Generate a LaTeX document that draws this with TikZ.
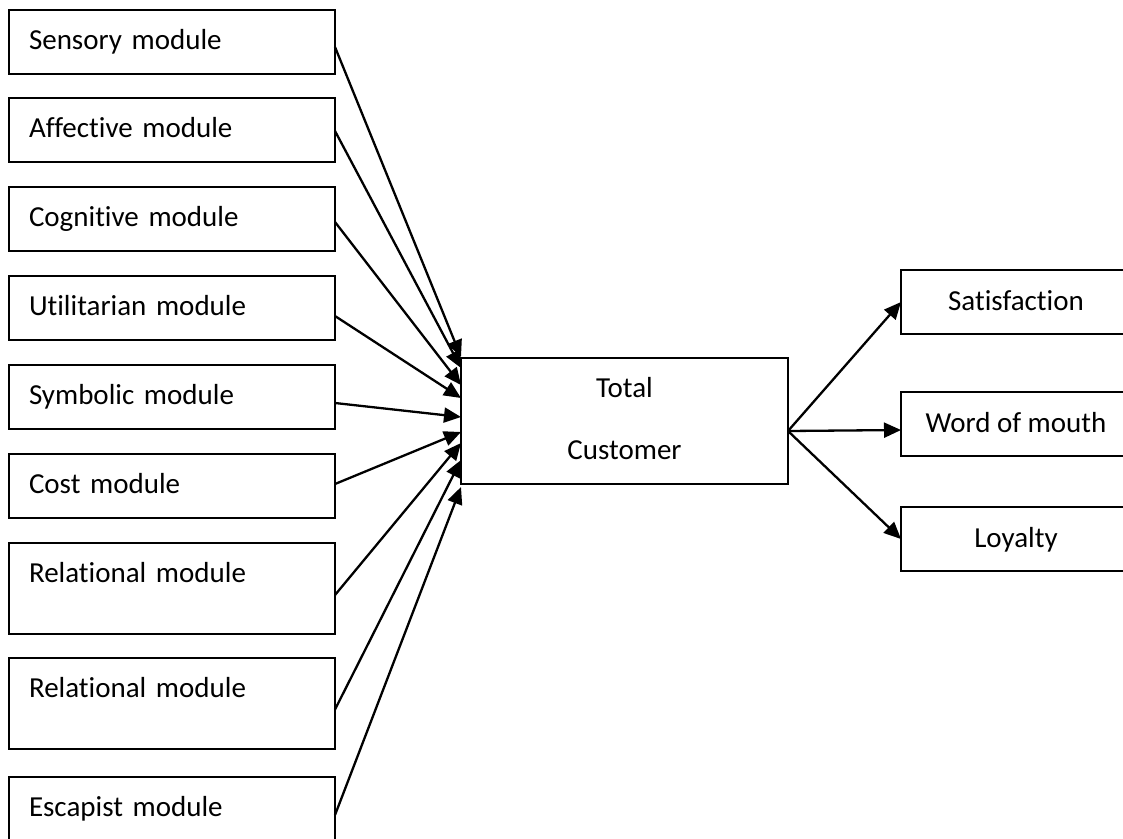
\documentclass[tikz,border=0pt]{standalone}
\usepackage{fontspec}
\setmainfont[Ligatures={NoCommon},RawFeature={-liga;-dlig;-calt}]{Carlito}
\usetikzlibrary{arrows.meta,calc}
\newcommand{\nolig}{\kern0pt{}}
\begin{document}
\begin{tikzpicture}[x=1pt,y=-1pt,
  box/.style={draw, line width=2pt, rectangle, inner sep=0pt, outer sep=0pt,
    font=\fontsize{29}{35}\selectfont},
  lbox/.style={box, anchor=north west, minimum width=326pt, minimum height=64pt,
    text width=286pt, align=left, text height=20pt, text depth=6pt},
  rbox/.style={lbox, minimum height=91pt, text height=20pt, text depth=33pt},
  obox/.style={box, anchor=north west, minimum width=230pt, minimum height=64pt,
    text height=21pt, text depth=5pt},
  arr/.style={line width=2.3pt, -{Triangle[length=17pt,width=15pt]}}
]
\useasboundingbox (0,0) rectangle (1123,838);
\clip (0,0) rectangle (1123,838);

\node[lbox] (sens) at (9,10)  {Sensory module};
\node[lbox] (aff)  at (9,98)  {Affect\nolig ive module};
\node[lbox] (cog)  at (9,187) {Cognit\nolig ive module};
\node[lbox] (util) at (9,276) {Ut\nolig ilitarian module};
\node[lbox] (sym)  at (9,365) {Symbolic module};
\node[lbox] (cost) at (9,454) {Cost module};
\node[rbox] (rel1) at (9,543) {Relational module};
\node[rbox] (rel2) at (9,658) {Relational module};
\node[rbox] (esc)  at (9,777) {Escapist module};

\node[box, minimum width=327pt, minimum height=126pt] (tc) at (624.5,421) {};
\node[font=\fontsize{29}{35}\selectfont, anchor=base, inner sep=0pt] (tct) at (624.5,397) {Total};
\node[font=\fontsize{29}{35}\selectfont, anchor=base, inner sep=0pt] (tcc) at (624.5,459) {Customer};

\node[obox] (sat) at (901,270) {Satisfact\nolig ion};
\node[obox] (wom) at (901,392) {Word of mouth};
\node[obox] (loy) at (901,507) {Loyalty};

\draw[arr] ($(sens.east)+(0,5)$)   -- ($(tc.west)+(0,-64)$);
\draw[arr] ($(aff.east)+(0,1)$)    -- ($(tc.west)+(0,-53)$);
\draw[arr] ($(cog.east)+(0,3)$)    -- ($(tc.west)+(0,-36)$);
\draw[arr] ($(util.east)+(0,8)$)   -- ($(tc.west)+(0,-23)$);
\draw[arr] ($(sym.east)+(0,6)$)    -- ($(tc.west)+(0,-4)$);
\draw[arr] ($(cost.east)+(0,-2)$)  -- ($(tc.west)+(0,11)$);
\draw[arr] ($(rel1.east)+(0,6.5)$) -- ($(tc.west)+(0,22)$);
\draw[arr] ($(rel2.east)+(0,6)$)   -- ($(tc.west)+(0,39)$);
\draw[arr] ($(esc.east)+(0,-7.5)$) -- ($(tc.west)+(0,66)$);

\coordinate (tco) at ($(tc.east)+(0,10)$);
\draw[arr] (tco) -- (sat.west);
\draw[arr] (tco) -- ($(wom.west)+(0,6)$);
\draw[arr] (tco) -- (loy.west);
\end{tikzpicture}
\end{document}
